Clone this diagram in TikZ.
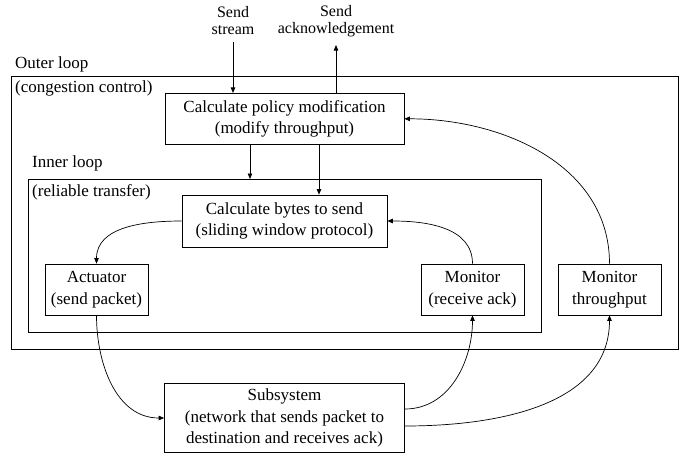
\documentclass[tikz,border=0pt]{standalone}
\usepackage{fontspec}
\setmainfont{Liberation Serif}
\usetikzlibrary{arrows.meta}
\begin{document}
\begin{tikzpicture}[x=1pt,y=-1pt,
  every node/.style={font=\fontsize{17}{21.5}\selectfont},
  toplbl/.style={align=center,inner sep=0pt,font=\fontsize{16}{17}\selectfont},
  blk/.style={draw,line width=0.7pt,align=center,inner sep=0pt,anchor=center},
  frame/.style={draw,line width=0.7pt},
  lbl/.style={anchor=west,inner sep=0pt},
  arr/.style={line width=0.7pt,-{Triangle[length=5.5pt,width=4.5pt]}}]
\useasboundingbox (0,0) rectangle (686,456);
% frames
\draw[frame] (11,76) rectangle (678,349);
\draw[frame] (28,179) rectangle (541,332);
\node[lbl] (outerl) at (15,64) {Outer loop};
\node[lbl] (outerc) at (15,88) {(congestion control)};
\node[lbl] (innerl) at (32,163) {Inner loop};
\node[lbl] (innerc) at (32,192) {(reliable transfer)};
\coordinate (innertop) at (250,179);
% blocks
\node[blk,minimum width=239pt,minimum height=51pt] (policy) at (284.5,118.8) {Calculate policy modification\\(modify throughput)};
\node[blk,minimum width=205pt,minimum height=52pt] (bytes) at (284.5,221) {Calculate bytes to send\\(sliding window protocol)};
\node[blk,minimum width=103pt,minimum height=51pt] (act) at (96.5,289.5) {Actuator\\(send packet)};
\node[blk,minimum width=103pt,minimum height=51pt] (mon) at (472.5,289.5) {Monitor\\(receive ack)};
\node[blk,minimum width=103pt,minimum height=51pt] (mont) at (609.5,289.5) {Monitor\\throughput};
\node[blk,minimum width=240pt,minimum height=69pt] (sub) at (284.5,418) {Subsystem\\(network that sends packet to\\destination and receives ack)};
\node[toplbl] (stream) at (233,21) {Send\\stream};
\node[toplbl] (ack) at (336,21) {Send\\acknowledgement};
\coordinate (streamend) at (233,42);
\coordinate (ackend) at (336,45);
\coordinate (p1) at (250,0);
\coordinate (p2) at (319,0);
% connectors
\draw[arr] (streamend) -- (streamend|-policy.north);
\draw[arr] (ackend|-policy.north) -- (ackend);
\draw[arr] (p1|-policy.south) -- (innertop);
\draw[arr] (p2|-policy.south) -- (p2|-bytes.north);
\draw[arr] (bytes.west) to[out=180,in=90] (act.north);
\draw[arr] (mon.north) to[out=90,in=0] (bytes.east);
\draw[arr] (mont.north) to[out=90,in=0] (policy.east);
\draw[arr] (act.south) to[out=-90,in=180] (sub.west);
\draw[arr] ([yshift=9pt]sub.east) to[out=0,in=-90] (mon.south);
\draw[arr] ([yshift=-8pt]sub.east) to[out=0,in=-90] (mont.south);
\end{tikzpicture}
\end{document}
